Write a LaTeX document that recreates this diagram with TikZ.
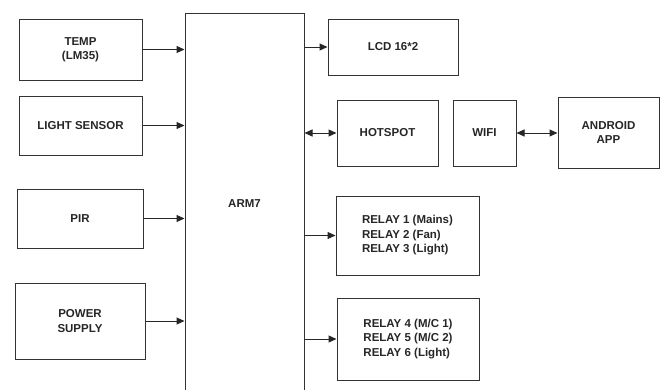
\documentclass[tikz,border=0pt]{standalone}
\usepackage{fontspec}
\setmainfont{Liberation Sans}
\usetikzlibrary{arrows.meta}

\begin{document}
\begin{tikzpicture}[x=1pt, y=-1pt,
    blk/.style={draw=black!80, line width=1pt, inner sep=0pt, align=center,
      font=\fontsize{11.5}{14.5}\selectfont\bfseries, text=black!85},
    arr/.style={draw=black!85, line width=1pt, -{Triangle[length=8pt,width=7pt]}},
    biarr/.style={draw=black!85, line width=1pt, {Triangle[length=8pt,width=7pt]}-{Triangle[length=8pt,width=7pt]}}]
  \useasboundingbox (0,0) rectangle (664,389);
  % inputs
  \node[blk, minimum width=123pt, minimum height=61pt] (temp) at (80.5,49.5) {TEMP\\(LM35)};
  \node[blk, minimum width=123pt, minimum height=59pt] (light) at (80.5,125.5) {LIGHT SENSOR};
  \node[blk, minimum width=126pt, minimum height=59pt] (pir) at (80,218.5) {PIR};
  \node[blk, minimum width=130pt, minimum height=76pt] (power) at (80,321) {POWER\\SUPPLY};
  % controller
  \node[blk, minimum width=119pt, minimum height=382pt] (arm) at (244.5,204) {ARM7};
  % outputs
  \node[blk, minimum width=130pt, minimum height=56pt] (lcd) at (393,47) {LCD 16*2};
  \node[blk, minimum width=101pt, minimum height=66pt] (hotspot) at (387.5,133) {HOTSPOT};
  \node[blk, minimum width=63pt, minimum height=66pt] (wifi) at (484.5,133) {WIFI};
  \node[blk, minimum width=101pt, minimum height=71pt] (app) at (608.5,132.5) {ANDROID\\APP};
  \node[blk, minimum width=143pt, minimum height=79pt, align=left] (relaya) at (407.5,235.5)
    {RELAY 1 (Mains)\\RELAY 2 (Fan)\\RELAY 3 (Light)};
  \node[blk, minimum width=142pt, minimum height=82pt, align=left] (relayb) at (408,339)
    {RELAY 4 (M/C 1)\\RELAY 5 (M/C 2)\\RELAY 6 (Light)};
  % connections
  \draw[arr] (temp.east) -- (temp.east -| arm.west);
  \draw[arr] (light.east) -- (light.east -| arm.west);
  \draw[arr] (pir.east) -- (pir.east -| arm.west);
  \draw[arr] (power.east) -- (power.east -| arm.west);
  \draw[arr] (arm.east |- lcd.west) -- (lcd.west);
  \draw[biarr] (arm.east |- hotspot.west) -- (hotspot.west);
  \draw[biarr] (wifi.east) -- (app.west |- wifi.east);
  \draw[arr] (arm.east |- relaya.west) -- (relaya.west);
  \draw[arr] (arm.east |- relayb.west) -- (relayb.west);
\end{tikzpicture}
\end{document}
